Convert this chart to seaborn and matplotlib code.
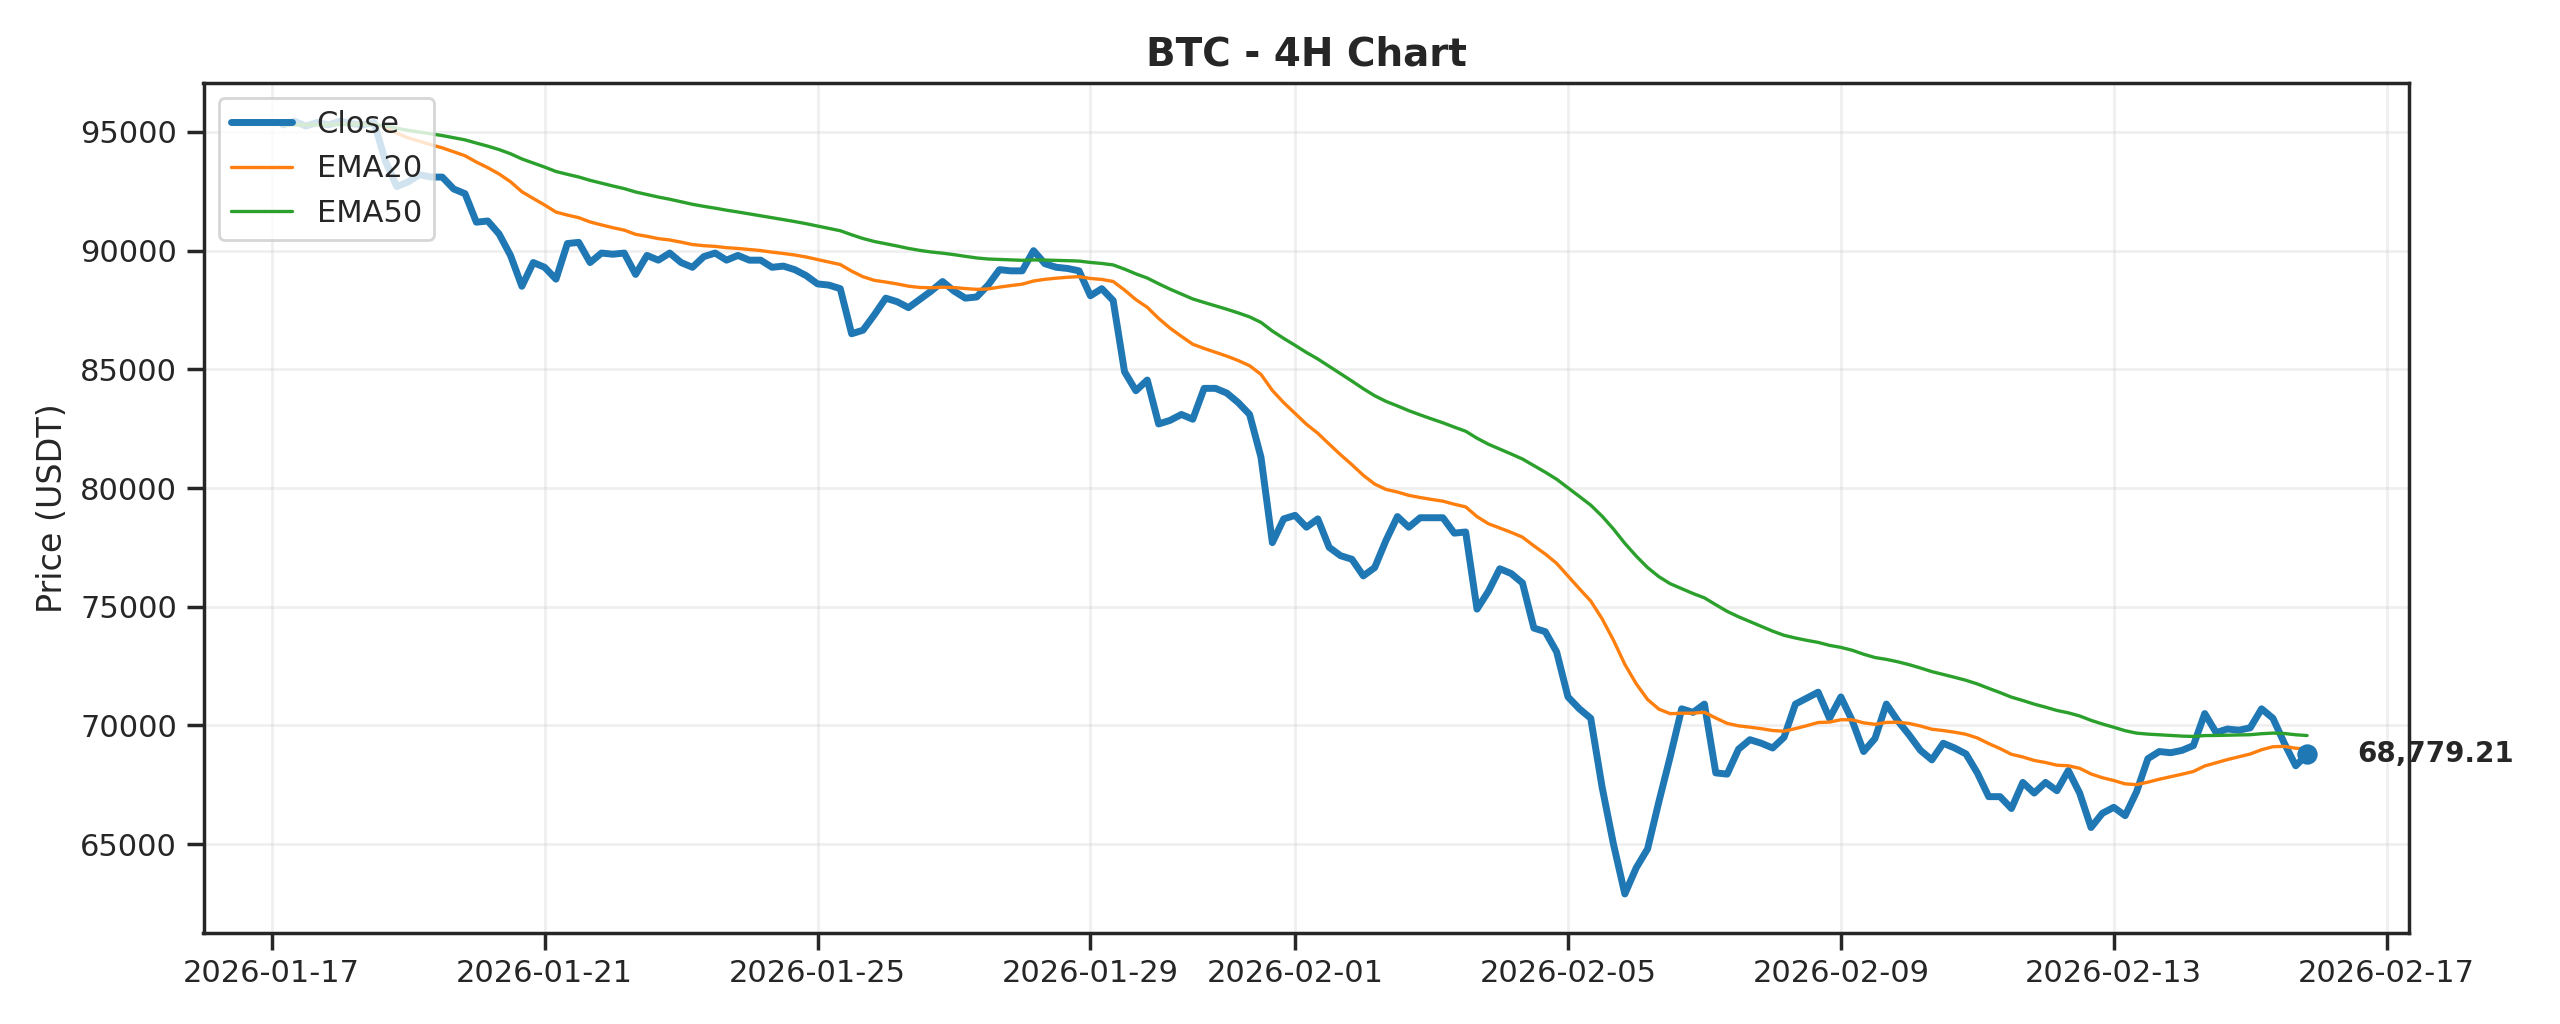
import matplotlib
matplotlib.use("Agg")
import matplotlib.pyplot as plt
import matplotlib.dates as mdates
import seaborn as sns
import pandas as pd

close = [95300, 95450, 95250, 95400, 95300, 95450, 95350, 95300, 95400,
 93770, 92700, 92900, 93200, 93100, 93100, 92600, 92400, 91200, 91250, 90700, 89800, 88500,
 89500, 89300, 88800, 90300, 90350, 89500, 89900, 89850, 89900, 89000, 89800, 89600, 89900,
 89500, 89300, 89750, 89900, 89600, 89800, 89600, 89600, 89300, 89350, 89200, 88950, 88600,
 88550, 88400, 86500, 86650, 87300, 88000, 87850, 87600, 87950, 88300, 88700, 88300, 88000,
 88050, 88550, 89200, 89150, 89150, 90000, 89450, 89300, 89250, 89150, 88100, 88400, 87900,
 84900, 84100, 84550, 82700, 82850, 83100, 82900, 84200, 84200, 84000, 83600, 83100, 81300,
 77700, 78700, 78850, 78350, 78700, 77500, 77150, 77000, 76300, 76650, 77800, 78800, 78350,
 78750, 78750, 78750, 78100, 78150, 74900, 75650, 76600, 76400, 76000, 74100, 73950, 73100,
 71200, 70700, 70300, 67400, 65000, 62900, 64000, 64800, 66800, 68700, 70700, 70550, 70900,
 68000, 67950, 69000, 69400, 69250, 69050, 69500, 70900, 71150, 71400, 70300, 71200, 70200,
 68900, 69450, 70900, 70200, 69600, 68950, 68550, 69250, 69050, 68800, 68000, 67000, 67000,
 66500, 67600, 67150, 67600, 67250, 68100, 67150, 65700, 66300, 66550, 66200, 67200, 68600,
 68900, 68850, 68950, 69150, 70500, 69700, 69850, 69800, 69900, 70700, 70300, 69250, 68300,
 68779.21]

dates = pd.date_range(end="2026-02-15 20:00", periods=len(close), freq="4h")
df = pd.DataFrame({"date": dates, "Close": close})
df["EMA20"] = df["Close"].ewm(span=20, adjust=False).mean()
df["EMA50"] = df["Close"].ewm(span=50, adjust=False).mean()

sns.set_theme(style="ticks")
plt.rcParams["font.family"] = ["DejaVu Sans"]
fig, ax = plt.subplots(figsize=(12.8, 5.12), dpi=200)
sns.lineplot(data=df, x="date", y="Close", ax=ax, color="#1f77b4", lw=2.5, label="Close")
sns.lineplot(data=df, x="date", y="EMA20", ax=ax, color="#ff7f0e", lw=1.2, label="EMA20")
sns.lineplot(data=df, x="date", y="EMA50", ax=ax, color="#2ca02c", lw=1.2, label="EMA50")
last_d, last_v = df["date"].iloc[-1], df["Close"].iloc[-1]
ax.scatter([last_d], [last_v], color="#1f77b4", s=40, zorder=5)
ax.annotate(f"{last_v:,.2f}", (last_d, last_v), xytext=(18, 0), textcoords="offset points",
            va="center", fontsize=10, fontweight="bold")
ax.set_title("BTC - 4H Chart", fontsize=14, fontweight="bold")
ax.set_xlabel("")
ax.set_ylabel("Price (USDT)")
ax.grid(True, alpha=0.3)
ax.xaxis.set_major_locator(mdates.DayLocator(bymonthday=[1, 5, 9, 13, 17, 21, 25, 29]))
ax.xaxis.set_major_formatter(mdates.DateFormatter("%Y-%m-%d"))
ax.set_xlim(pd.Timestamp("2026-01-16 00:00"), pd.Timestamp("2026-02-17 08:00"))
ax.legend(loc="upper left", frameon=True)
fig.tight_layout()
fig.savefig("out.png", dpi=200)
